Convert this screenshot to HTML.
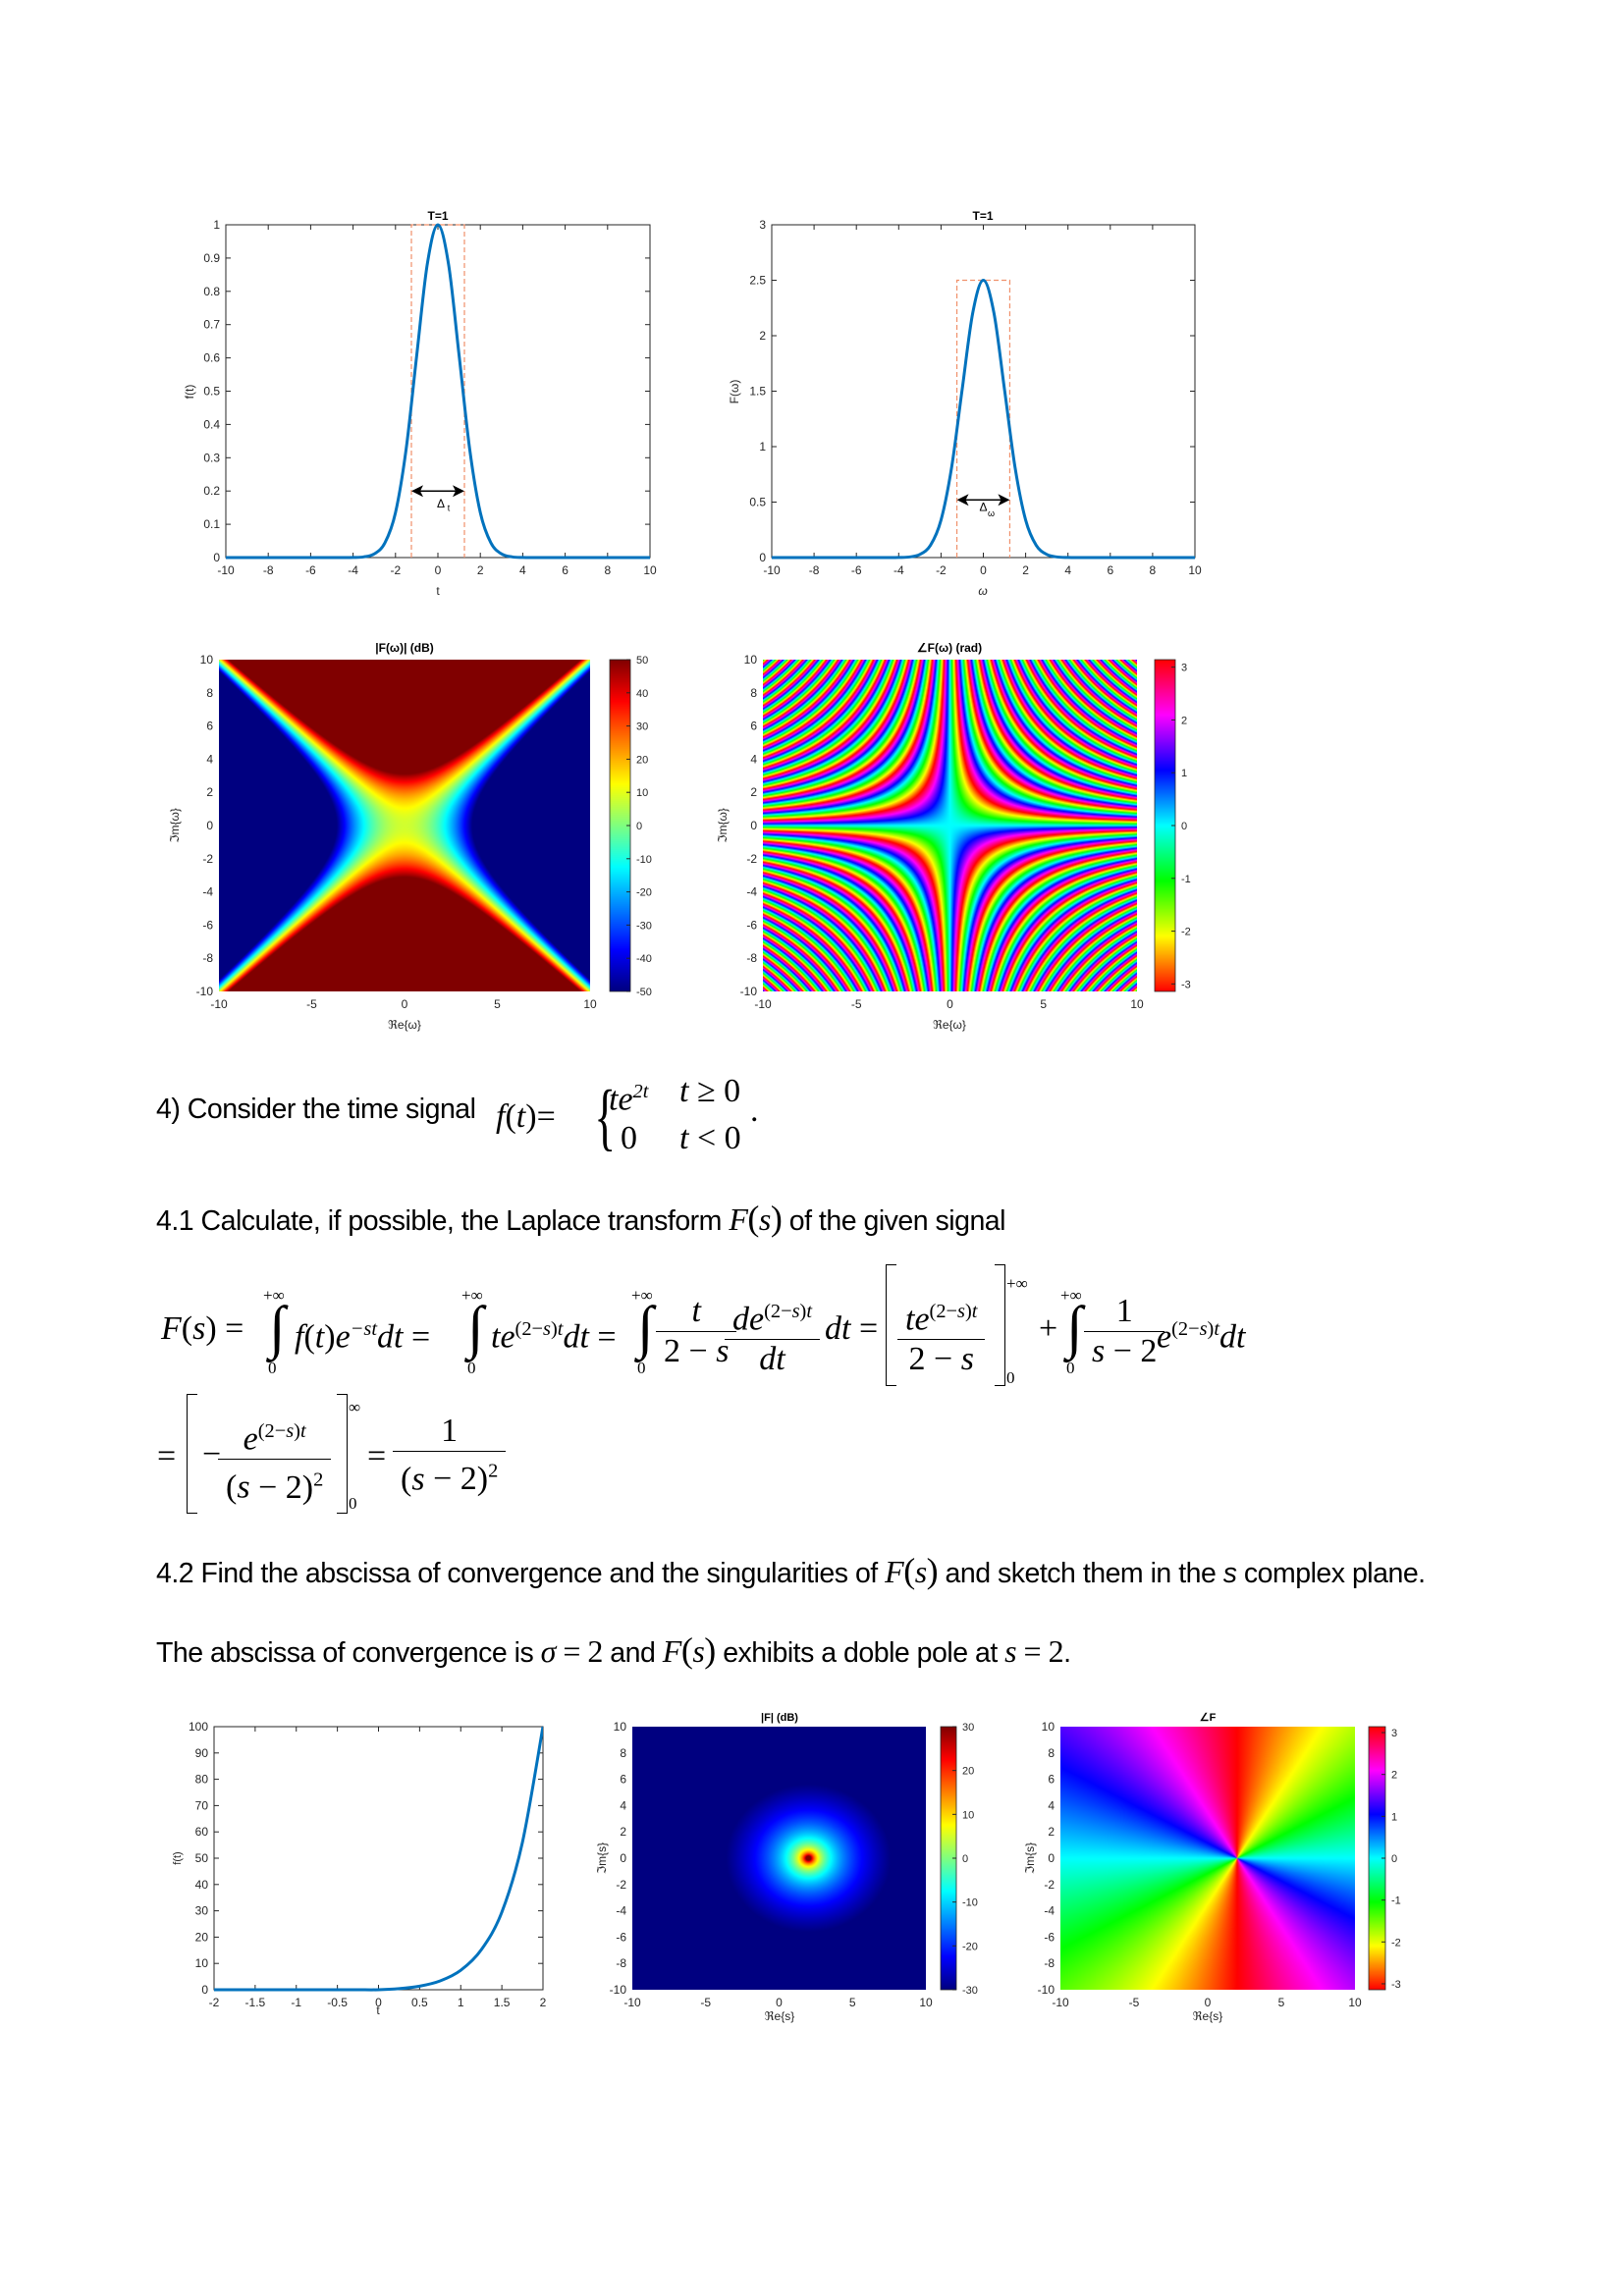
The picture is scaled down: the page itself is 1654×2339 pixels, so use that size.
<!DOCTYPE html>
<html><head><meta charset="utf-8">
<style>
html,body{margin:0;padding:0;background:#fff;}
#page{position:relative;width:1654px;height:2339px;overflow:hidden;background:#fff;}
.t{position:absolute;font-family:"Liberation Sans",sans-serif;font-size:28.5px;color:#000;white-space:nowrap;letter-spacing:-0.5px;}
.m{font-family:"Liberation Serif",serif;font-style:italic;font-size:32px;}
.r{font-family:"Liberation Serif",serif;font-style:normal;}
.eq{position:absolute;font-family:"Liberation Serif",serif;font-style:italic;font-size:34px;white-space:nowrap;line-height:40px;}
.int{position:absolute;font-family:"Liberation Serif",serif;font-size:60px;line-height:60px;}
.lim{position:absolute;font-family:"Liberation Serif",serif;font-size:17px;}
.frac{position:absolute;display:flex;flex-direction:column;align-items:center;font-family:"Liberation Serif",serif;font-style:italic;font-size:34px;line-height:40px;}
.frac .n{padding:0 4px;}
.frac .d{border-top:1.6px solid #000;padding:0 4px;width:100%;text-align:center;}
sup{font-size:60%;}
.br{position:absolute;border:1.6px solid #000;}
canvas{position:absolute;}
svg{position:absolute;left:0;top:0;}
</style></head>
<body>
<div id="page">

<canvas id="hm1"></canvas>
<canvas id="hm2"></canvas>
<canvas id="cb1"></canvas>
<canvas id="cb2"></canvas>
<canvas id="hm3"></canvas>
<canvas id="hm4"></canvas>
<canvas id="cb3"></canvas>
<canvas id="cb4"></canvas>

<svg id="charts" width="1654" height="2339"></svg>

<!-- Problem text -->
<div class="t" style="left:159px;top:1114px;">4) Consider the time signal</div>
<div class="eq" style="left:505px;top:1118px;">f<span class="r">(</span>t<span class="r">)</span><span class="r">=</span></div>
<div class="eq r" style="left:598px;top:1100px;font-size:76px;line-height:76px;font-style:normal;transform:scaleX(0.6);">{</div>
<div class="eq" style="left:620px;top:1092px;">te<sup>2t</sup></div>
<div class="eq" style="left:692px;top:1092px;">t <span class="r">≥ 0</span></div>
<div class="eq r" style="left:632px;top:1140px;font-style:normal;">0</div>
<div class="eq" style="left:692px;top:1140px;">t <span class="r">&lt; 0</span></div>
<div class="eq r" style="left:764px;top:1112px;font-style:normal;">.</div>

<div class="t" style="left:159px;top:1220px;">4.1 Calculate, if possible, the Laplace transform <span class="m">F</span><span class="m r" style="font-size:36px">(</span><span class="m">s</span><span class="m r" style="font-size:36px">)</span> of the given signal</div>

<!-- Equation line 1 -->
<div class="eq" style="left:164px;top:1334px;">F<span class="r">(</span>s<span class="r">) =</span></div>
<div class="lim" style="left:268px;top:1310px;">+∞</div>
<div class="int" style="left:274px;top:1322px;">∫</div>
<div class="lim" style="left:273px;top:1384px;">0</div>
<div class="eq" style="left:300px;top:1334px;">f<span class="r">(</span>t<span class="r">)</span>e<sup>−st</sup>dt <span class="r">=</span></div>
<div class="lim" style="left:470px;top:1310px;">+∞</div>
<div class="int" style="left:476px;top:1322px;">∫</div>
<div class="lim" style="left:476px;top:1384px;">0</div>
<div class="eq" style="left:500px;top:1334px;">te<sup><span class="r">(2−</span>s<span class="r">)</span>t</sup>dt <span class="r">=</span></div>
<div class="lim" style="left:643px;top:1310px;">+∞</div>
<div class="int" style="left:649px;top:1322px;">∫</div>
<div class="lim" style="left:649px;top:1384px;">0</div>
<div class="frac" style="left:672px;top:1316px;"><span class="n">t</span><span class="d"><span class="r">2 −</span> s</span></div>
<div class="frac" style="left:742px;top:1316px;"><span class="n">de<sup><span class="r">(2−</span>s<span class="r">)</span>t</sup></span><span class="d">dt</span></div>
<div class="eq" style="left:840px;top:1334px;">dt <span class="r">=</span></div>
<div class="br" style="left:902px;top:1288px;width:10px;height:122px;border-right:none;"></div>
<div class="frac" style="left:918px;top:1316px;"><span class="n">te<sup><span class="r">(2−</span>s<span class="r">)</span>t</sup></span><span class="d"><span class="r">2 −</span> s</span></div>
<div class="br" style="left:1013px;top:1288px;width:10px;height:122px;border-left:none;"></div>
<div class="lim" style="left:1025px;top:1298px;">+∞</div>
<div class="lim" style="left:1025px;top:1394px;">0</div>
<div class="eq r" style="left:1058px;top:1334px;font-style:normal;">+</div>
<div class="lim" style="left:1080px;top:1310px;">+∞</div>
<div class="int" style="left:1086px;top:1322px;">∫</div>
<div class="lim" style="left:1086px;top:1384px;">0</div>
<div class="frac" style="left:1108px;top:1316px;"><span class="n r" style="font-style:normal">1</span><span class="d">s <span class="r">− 2</span></span></div>
<div class="eq" style="left:1178px;top:1334px;">e<sup><span class="r">(2−</span>s<span class="r">)</span>t</sup>dt</div>

<!-- Equation line 2 -->
<div class="eq r" style="left:160px;top:1464px;font-style:normal;">=</div>
<div class="br" style="left:190px;top:1420px;width:10px;height:120px;border-right:none;"></div>
<div class="eq r" style="left:206px;top:1462px;font-style:normal;">−</div>
<div class="frac" style="left:226px;top:1438px;"><span class="n">e<sup><span class="r">(2−</span>s<span class="r">)</span>t</sup></span><span class="d"><span class="r">(</span>s <span class="r">− 2)<sup>2</sup></span></span></div>
<div class="br" style="left:343px;top:1420px;width:10px;height:120px;border-left:none;"></div>
<div class="lim" style="left:355px;top:1424px;">∞</div>
<div class="lim" style="left:355px;top:1522px;">0</div>
<div class="eq r" style="left:374px;top:1464px;font-style:normal;">=</div>
<div class="frac" style="left:404px;top:1438px;"><span class="n r" style="font-style:normal">1</span><span class="d"><span class="r">(</span>s <span class="r">− 2)<sup>2</sup></span></span></div>

<div class="t" style="left:159px;top:1579px;">4.2 Find the abscissa of convergence and the singularities of <span class="m">F</span><span class="m r" style="font-size:36px">(</span><span class="m">s</span><span class="m r" style="font-size:36px">)</span> and sketch them in the <i>s</i> complex plane.</div>
<div class="t" style="left:159px;top:1660px;">The abscissa of convergence is <span class="m">σ</span> <span class="m r">= 2</span> and <span class="m">F</span><span class="m r" style="font-size:36px">(</span><span class="m">s</span><span class="m r" style="font-size:36px">)</span> exhibits a doble pole at <span class="m">s</span> <span class="m r">= 2</span>.</div>

</div>
<script>
// ---------- data ----------
const gaussT = [-10,-9.5,-9,-8.5,-8,-7.5,-7,-6.5,-6,-5.5,-5,-4.5,-4,-3.5,-3,-2.5,-2,-1.5,-1,-0.5,0,0.5,1,1.5,2,2.5,3,3.5,4,4.5,5,5.5,6,6.5,7,7.5,8,8.5,9,9.5,10];
const gaussF = [0,0,0,0,0,0,0,0,0,0,0,0,0.0003,0.002,0.011,0.044,0.135,0.325,0.607,0.882,1,0.882,0.607,0.325,0.135,0.044,0.011,0.002,0.0003,0,0,0,0,0,0,0,0,0,0,0,0];
const spectW = gaussT;
const spectF = [0,0,0,0,0,0,0,0,0,0,0,0,0.001,0.005,0.028,0.110,0.338,0.812,1.516,2.206,2.5,2.206,1.516,0.812,0.338,0.110,0.028,0.005,0.001,0,0,0,0,0,0,0,0,0,0,0,0];
const halfWidthT = [-1.25, 1.25];
const halfWidthW = [-1.25, 1.25];
const expT = [-2,-1.75,-1.5,-1.25,-1,-0.75,-0.5,-0.25,0,0.25,0.5,0.75,1,1.25,1.5,1.75,2];
const expF = [0,0,0,0,0,0,0,0,0,0.41,1.36,3.36,7.39,15.2,29.5,56,100];
const xTicks10 = [-10,-8,-6,-4,-2,0,2,4,6,8,10];
const yTicks1 = [0,0.1,0.2,0.3,0.4,0.5,0.6,0.7,0.8,0.9,1];
const yTicks3 = [0,0.5,1,1.5,2,2.5,3];
const ticks5 = [-10,-5,0,5,10];
const ticks2 = [-10,-8,-6,-4,-2,0,2,4,6,8,10];
const cbTicksDb = [-50,-40,-30,-20,-10,0,10,20,30,40,50];
const cbTicksPh = [-3,-2,-1,0,1,2,3];
const cbTicksDb2 = [-30,-20,-10,0,10,20,30];
const expXTicks = [-2,-1.5,-1,-0.5,0,0.5,1,1.5,2];
const expYTicks = [0,10,20,30,40,50,60,70,80,90,100];
const poleRe = [2];

const NS='http://www.w3.org/2000/svg';
const svg=document.getElementById('charts');
function el(tag,attrs,parent){const e=document.createElementNS(NS,tag);for(const k in attrs)e.setAttribute(k,attrs[k]);(parent||svg).appendChild(e);return e;}
function txt(x,y,s,opt){opt=opt||{};const e=el('text',{x:x,y:y,'font-family':'Liberation Sans, sans-serif','font-size':opt.size||12,fill:opt.fill||'#262626','text-anchor':opt.anchor||'middle','font-weight':opt.weight||'normal'});if(opt.rot)e.setAttribute('transform','rotate(-90 '+x+' '+y+')');if(opt.italic)e.setAttribute('font-style','italic');e.textContent=s;return e;}
function fmt(v){return String(v);}

function axes(b,xl,yl,xt,yt,name,opts){
  opts=opts||{};
  const sx=v=>b.x+(v-xl[0])/(xl[1]-xl[0])*b.w;
  const sy=v=>b.y+b.h-(v-yl[0])/(yl[1]-yl[0])*b.h;
  const g=el('g',{});
  
  
  if(!opts.noBox){
    const r=el('rect',{x:b.x,y:b.y,width:b.w,height:b.h,fill:'none',stroke:'#262626','stroke-width':1},g);
    
    
  }
  xt.forEach(v=>{const X=sx(v);
    if(!opts.noTickMarks){el('line',{x1:X,y1:b.y+b.h,x2:X,y2:b.y+b.h-5,stroke:'#262626'},g);el('line',{x1:X,y1:b.y,x2:X,y2:b.y+5,stroke:'#262626'},g);}
    const t=txt(X,b.y+b.h+17,fmt(v));
    
    
  });
  yt.forEach(v=>{const Y=sy(v);
    if(!opts.noTickMarks){el('line',{x1:b.x,y1:Y,x2:b.x+5,y2:Y,stroke:'#262626'},g);el('line',{x1:b.x+b.w,y1:Y,x2:b.x+b.w-5,y2:Y,stroke:'#262626'},g);}
    const t=txt(b.x-6,Y+4,fmt(v),{anchor:'end'});
    
    
  });
  return {sx,sy};
}
function curve(xs,ys,sx,sy,name,clip){
  const P=xs.map((x,i)=>[sx(x),sy(ys[i])]);
  let d='M'+P[0][0]+','+P[0][1];
  for(let i=0;i<P.length-1;i++){
    const p0=P[Math.max(0,i-1)],p1=P[i],p2=P[i+1],p3=P[Math.min(P.length-1,i+2)];
    const c1=[p1[0]+(p2[0]-p0[0])/6,p1[1]+(p2[1]-p0[1])/6];
    const c2=[p2[0]-(p3[0]-p1[0])/6,p2[1]-(p3[1]-p1[1])/6];
    d+=' C'+c1[0]+','+c1[1]+' '+c2[0]+','+c2[1]+' '+p2[0]+','+p2[1];
  }
  const p=el('path',{d:d,fill:'none',stroke:'#0072BD','stroke-width':3});
  if(clip)p.setAttribute('clip-path','url(#'+clip+')');
  
  
}
function arrow(x1,x2,y,name){
  const g=el('g',{});
  
  
  el('line',{x1:x1+6,y1:y,x2:x2-6,y2:y,stroke:'#000','stroke-width':1.5},g);
  el('path',{d:`M${x1},${y} L${x1+12},${y-6} L${x1+9},${y} L${x1+12},${y+6} Z`,fill:'#000'},g);
  el('path',{d:`M${x2},${y} L${x2-12},${y-6} L${x2-9},${y} L${x2-12},${y+6} Z`,fill:'#000'},g);
}

// ---------- plot 1: f(t) ----------
(function(){
  const b={x:230,y:229,w:432,h:339};
  const a=axes(b,[-10,10],[0,1],xTicks10,yTicks1,'time-plot');
  const t=txt(446,224,'T=1',{weight:'bold',fill:'#000'});
  
  const yl=txt(197,399,'f(t)',{rot:true});
  
  const xl=txt(446,606,'t');
  
  const box=el('path',{d:`M${a.sx(halfWidthT[0])},${a.sy(0)} V${a.sy(1)} H${a.sx(halfWidthT[1])} V${a.sy(0)}`,fill:'none',stroke:'#F0906A','stroke-width':1.2,'stroke-dasharray':'5,3'});
  
  curve(gaussT,gaussF,a.sx,a.sy,'time-gaussian-line');
  arrow(a.sx(halfWidthT[0]),a.sx(halfWidthT[1]),a.sy(0.2),'time-width-arrow');
  const d=txt(a.sx(0)+3,a.sy(0.15),'Δ',{fill:'#000'});
  
  const s=txt(a.sx(0)+11,a.sy(0.14),'t',{size:9,fill:'#000'});
  
})();
// ---------- plot 2: F(w) ----------
(function(){
  const b={x:786,y:229,w:431,h:339};
  const a=axes(b,[-10,10],[0,3],xTicks10,yTicks3,'spectrum-plot');
  const t=txt(1001,224,'T=1',{weight:'bold',fill:'#000'});
  
  const yl=txt(752,399,'F(ω)',{rot:true});
  
  const xl=txt(1001,606,'ω',{italic:true});
  
  const box=el('path',{d:`M${a.sx(halfWidthW[0])},${a.sy(0)} V${a.sy(2.5)} H${a.sx(halfWidthW[1])} V${a.sy(0)}`,fill:'none',stroke:'#F0906A','stroke-width':1.2,'stroke-dasharray':'5,3'});
  
  curve(spectW,spectF,a.sx,a.sy,'spectrum-gaussian-line');
  arrow(a.sx(halfWidthW[0]),a.sx(halfWidthW[1]),a.sy(0.52),'spectrum-width-arrow');
  const d=txt(a.sx(0),a.sy(0.42),'Δ',{fill:'#000'});
  
  const s=txt(a.sx(0)+8,a.sy(0.37),'ω',{size:9,fill:'#000'});
  
})();

// ---------- colormaps ----------
function jet(v){
  const f=x=>Math.max(0,Math.min(1,x));
  const r=f(1.5-Math.abs(4*v-3)),g=f(1.5-Math.abs(4*v-2)),b=f(1.5-Math.abs(4*v-1));
  return [r*255,g*255,b*255];
}
function hsv(h){
  h=((h%1)+1)%1; const i=Math.floor(h*6),f=h*6-i,q=1-f;
  const c=[[1,f,0],[q,1,0],[0,1,f],[0,q,1],[f,0,1],[1,0,q]][i%6];
  return [c[0]*255,c[1]*255,c[2]*255];
}
function heat(id,b,fn){
  const c=document.getElementById(id);
  c.width=b.w;c.height=b.h;c.style.left=b.x+'px';c.style.top=b.y+'px';
  const ctx=c.getContext('2d');const im=ctx.createImageData(b.w,b.h);
  for(let j=0;j<b.h;j++)for(let i=0;i<b.w;i++){
    const re=-10+20*(i+0.5)/b.w, imv=10-20*(j+0.5)/b.h;
    const col=fn(re,imv);const k=(j*b.w+i)*4;
    im.data[k]=col[0];im.data[k+1]=col[1];im.data[k+2]=col[2];im.data[k+3]=255;
  }
  ctx.putImageData(im,0,0);
}
function cbar(id,b,map){
  const c=document.getElementById(id);
  c.width=b.w;c.height=b.h;c.style.left=b.x+'px';c.style.top=b.y+'px';
  const ctx=c.getContext('2d');
  for(let j=0;j<b.h;j++){const col=map(1-(j+0.5)/b.h);ctx.fillStyle=`rgb(${col[0]|0},${col[1]|0},${col[2]|0})`;ctx.fillRect(0,j,b.w,1);}
}
function cbTicks(b,lim,ticks,name){
  const r=el('rect',{x:b.x,y:b.y,width:b.w,height:b.h,fill:'none',stroke:'#262626','stroke-width':0.8});
  
  ticks.forEach(v=>{const Y=b.y+b.h-(v-lim[0])/(lim[1]-lim[0])*b.h;
    el('line',{x1:b.x+b.w-4,y1:Y,x2:b.x+b.w,y2:Y,stroke:'#262626'});
    const t=txt(b.x+b.w+6,Y+4,String(v),{anchor:'start',size:11});
    
  });
}
const LOG=20/Math.LN10;
const b3={x:223,y:672,w:378,h:338};
heat('hm1',b3,(a,bb)=>{const db=20*Math.log10(2.5066)+LOG*(-(a*a-bb*bb)/2);return jet((Math.max(-50,Math.min(50,db))+50)/100);});
axes(b3,[-10,10],[-10,10],ticks5,ticks2,'magnitude-map',{noBox:true,noTickMarks:true});
cbar('cb1',{x:621,y:672,w:21,h:338},jet);
cbTicks({x:621,y:672,w:21,h:338},[-50,50],cbTicksDb,'magnitude-colorbar');
(function(){let t=txt(412,664,'|F(ω)| (dB)',{weight:'bold',fill:'#000'});
t=txt(412,1048,'ℜe{ω}');
t=txt(182,841,'ℑm{ω}',{rot:true});})();
const b4={x:777,y:672,w:381,h:338};
heat('hm2',b4,(a,bb)=>{let p=-a*bb;p=p-2*Math.PI*Math.floor((p+Math.PI)/(2*Math.PI));return hsv((p+Math.PI)/(2*Math.PI));});
axes(b4,[-10,10],[-10,10],ticks5,ticks2,'phase-map',{noBox:true,noTickMarks:true});
cbar('cb2',{x:1176,y:672,w:21,h:338},v=>hsv(v));
cbTicks({x:1176,y:672,w:21,h:338},[-Math.PI,Math.PI],cbTicksPh,'phase-colorbar');
(function(){let t=txt(967,664,'∠F(ω) (rad)',{weight:'bold',fill:'#000'});
t=txt(967,1048,'ℜe{ω}');
t=txt(740,841,'ℑm{ω}',{rot:true});})();

// ---------- bottom row ----------
(function(){
  const b={x:218,y:1759,w:335,h:268};
  const cp=el('clipPath',{id:'clip5'});el('rect',{x:b.x,y:b.y-2,width:b.w,height:b.h+4},cp);
  const a=axes(b,[-2,2],[0,100],expXTicks,expYTicks,'exp-plot');
  curve(expT,expF,a.sx,a.sy,'exp-signal-line','clip5');
  let t=txt(385,2052,'t');
  t=txt(184,1893,'f(t)',{rot:true,size:11});
})();
const b6={x:644,y:1759,w:299,h:268};
heat('hm3',b6,(a,bb)=>{const r=Math.hypot(a-poleRe[0],bb);const db=-40*Math.log10(r);return jet((Math.max(-30,Math.min(30,db))+30)/60);});
axes(b6,[-10,10],[-10,10],ticks5,ticks2,'laplace-magnitude-map',{noBox:true,noTickMarks:true});
cbar('cb3',{x:958,y:1759,w:16,h:268},jet);
cbTicks({x:958,y:1759,w:16,h:268},[-30,30],cbTicksDb2,'laplace-magnitude-colorbar');
(function(){let t=txt(794,1753,'|F| (dB)',{weight:'bold',fill:'#000',size:11});
t=txt(794,2058,'ℜe{s}');
t=txt(617,1893,'ℑm{s}',{rot:true});})();
const b7={x:1080,y:1759,w:300,h:268};
heat('hm4',b7,(a,bb)=>{let p=-2*Math.atan2(bb,a-poleRe[0]);p=p-2*Math.PI*Math.floor((p+Math.PI)/(2*Math.PI));return hsv((p+Math.PI)/(2*Math.PI));});
axes(b7,[-10,10],[-10,10],ticks5,ticks2,'laplace-phase-map',{noBox:true,noTickMarks:true});
cbar('cb4',{x:1394,y:1759,w:17,h:268},v=>hsv(v));
cbTicks({x:1394,y:1759,w:17,h:268},[-Math.PI,Math.PI],cbTicksPh,'laplace-phase-colorbar');
(function(){let t=txt(1230,1753,'∠F',{weight:'bold',fill:'#000',size:11});
t=txt(1230,2058,'ℜe{s}');
t=txt(1053,1893,'ℑm{s}',{rot:true});})();
</script>
</body></html>
